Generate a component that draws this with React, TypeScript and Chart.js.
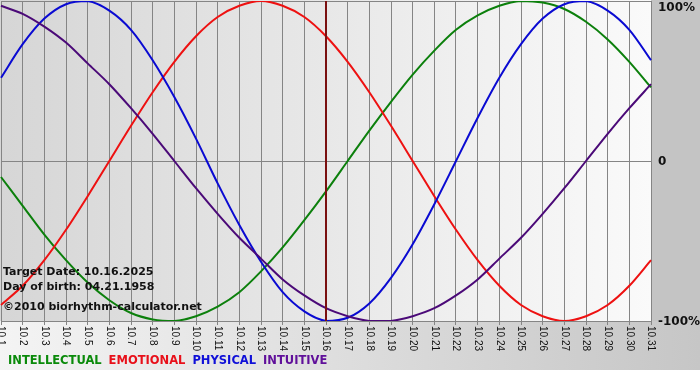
import React, { useEffect, useRef } from "react";
import { Chart, registerables } from "chart.js";

Chart.register(...registerables);

const days: string[] = [
  "10.1","10.2","10.3","10.4","10.5","10.6","10.7","10.8","10.9","10.10",
  "10.11","10.12","10.13","10.14","10.15","10.16","10.17","10.18","10.19","10.20",
  "10.21","10.22","10.23","10.24","10.25","10.26","10.27","10.28","10.29","10.30","10.31",
];

const intellectual: number[] = [
  -0.10, -0.28, -0.46, -0.62, -0.76, -0.87, -0.95, -0.99, -1.00, -0.97,
  -0.91, -0.82, -0.69, -0.54, -0.37, -0.19, 0.00, 0.19, 0.37, 0.54,
  0.69, 0.82, 0.91, 0.97, 1.00, 0.99, 0.95, 0.87, 0.76, 0.62, 0.46,
];

const emotional: number[] = [
  -0.90, -0.78, -0.62, -0.43, -0.22, 0.00, 0.22, 0.43, 0.62, 0.78,
  0.90, 0.97, 1.00, 0.97, 0.90, 0.78, 0.62, 0.43, 0.22, 0.00,
  -0.22, -0.43, -0.62, -0.78, -0.90, -0.97, -1.00, -0.97, -0.90, -0.78, -0.62,
];

const physical: number[] = [
  0.52, 0.73, 0.89, 0.98, 1.00, 0.94, 0.82, 0.63, 0.40, 0.14,
  -0.14, -0.40, -0.63, -0.82, -0.94, -1.00, -0.98, -0.89, -0.73, -0.52,
  -0.27, 0.00, 0.27, 0.52, 0.73, 0.89, 0.98, 1.00, 0.94, 0.82, 0.63,
];

const intuitive: number[] = [
  0.97, 0.92, 0.84, 0.74, 0.61, 0.48, 0.33, 0.17, 0.00, -0.17,
  -0.33, -0.48, -0.61, -0.74, -0.84, -0.92, -0.97, -1.00, -1.00, -0.97,
  -0.92, -0.84, -0.74, -0.61, -0.48, -0.33, -0.17, 0.00, 0.17, 0.33, 0.48,
];

const targetIndex = 15;
const yTickLabels: { v: number; t: string }[] = [
  { v: 1, t: "100%" },
  { v: 0, t: "0" },
  { v: -1, t: "-100%" },
];
const legendItems: { t: string; c: string }[] = [
  { t: "INTELLECTUAL", c: "#0a8a0a" },
  { t: "EMOTIONAL", c: "#e8101a" },
  { t: "PHYSICAL", c: "#1010d8" },
  { t: "INTUITIVE", c: "#60109a" },
];
const infoLines: string[] = [
  "Target Date: 10.16.2025",
  "Day of birth: 04.21.1958",
  "\u00a92010 biorhythm-calculator.net",
];

const decorPlugin = {
  id: "decor",
  beforeDraw(chart: any) {
    const { ctx, chartArea } = chart;
    const W = chart.width;
    const H = chart.height;
    ctx.save();
    ctx.fillStyle = "#ffffff";
    ctx.fillRect(0, 0, W, H);
    ctx.fillStyle = "#c4c4c4";
    ctx.fillRect(chartArea.right, 0, W - chartArea.right, chartArea.bottom + 1);
    const gb = ctx.createLinearGradient(0, 0, W, 0);
    gb.addColorStop(0, "#f4f4f4");
    gb.addColorStop(1, "#c6c6c6");
    ctx.fillStyle = gb;
    ctx.fillRect(0, chartArea.bottom, W, 370 - chartArea.bottom);
    const g = ctx.createLinearGradient(chartArea.left, 0, chartArea.right, 0);
    g.addColorStop(0, "#d6d6d6");
    g.addColorStop(1, "#fafafa");
    ctx.fillStyle = g;
    ctx.fillRect(0, 0, chartArea.right, chartArea.bottom);
    ctx.restore();
  },
  afterDatasetsDraw(chart: any) {
    const { ctx, chartArea, scales } = chart;
    const xs = scales.x;
    const ys = scales.y;
    ctx.save();
    const tx = Math.round(xs.getPixelForValue(targetIndex));
    ctx.strokeStyle = "#7a1010";
    ctx.lineWidth = 2;
    ctx.beginPath();
    ctx.moveTo(tx, chartArea.top);
    ctx.lineTo(tx, chartArea.bottom);
    ctx.stroke();

    ctx.fillStyle = "#111111";
    ctx.font = "bold 11px 'DejaVu Sans'";
    ctx.textAlign = "left";
    ctx.textBaseline = "middle";
    ctx.fillText(infoLines[0], 3, 272);
    ctx.fillText(infoLines[1], 3, 287);
    ctx.fillText(infoLines[2], 3, 307);

    ctx.fillStyle = "#111111";
    ctx.font = "10px 'Liberation Sans'";
    days.forEach((d, i) => {
      const x = xs.getPixelForValue(i);
      ctx.save();
      ctx.translate(x, chartArea.bottom + 5);
      ctx.rotate(Math.PI / 2);
      ctx.textAlign = "left";
      ctx.textBaseline = "middle";
      ctx.fillText(d, 0, 0);
      ctx.restore();
    });

    ctx.font = "bold 12px 'DejaVu Sans'";
    ctx.textAlign = "left";
    ctx.textBaseline = "middle";
    yTickLabels.forEach((l) => {
      let y = ys.getPixelForValue(l.v);
      if (l.v === 1) y += 6;
      ctx.fillText(l.t, chartArea.right + 7, y + 1);
    });

    ctx.font = "bold 11.5px 'DejaVu Sans'";
    let lx = 8;
    legendItems.forEach((it) => {
      ctx.fillStyle = it.c;
      ctx.fillText(it.t, lx, 361);
      lx += ctx.measureText(it.t).width + 7;
    });
    ctx.restore();
  },
};

export default function App() {
  const ref = useRef<HTMLCanvasElement | null>(null);
  useEffect(() => {
    document.body.style.margin = "0";
    if (!ref.current) return;
    const mk = (label: string, data: number[], color: string) => ({
      label,
      data,
      borderColor: color,
      backgroundColor: color,
      borderWidth: 2,
      pointRadius: 0,
      tension: 0.3,
      fill: false,
    });
    const chart = new Chart(ref.current, {
      type: "line",
      data: {
        labels: days,
        datasets: [
          mk("INTUITIVE", intuitive, "#4b0a78"),
          mk("PHYSICAL", physical, "#0a0ad2"),
          mk("EMOTIONAL", emotional, "#ee1111"),
          mk("INTELLECTUAL", intellectual, "#0c800c"),
        ],
      },
      options: {
        responsive: false,
        animation: false,
        layout: { padding: { left: 1, top: 1, right: 49, bottom: 55 } },
        plugins: { legend: { display: false }, tooltip: { enabled: false } },
        scales: {
          x: {
            offset: false,
            grid: { color: "#858585", lineWidth: 1, drawTicks: true, tickLength: 4 },
            border: { display: false },
            ticks: { display: false },
          },
          y: {
            min: -1,
            max: 1,
            grid: { color: "#858585", lineWidth: 1, drawTicks: false },
            border: { display: false },
            ticks: { display: false, stepSize: 1 },
          },
        },
      },
      plugins: [decorPlugin],
    });
    return () => chart.destroy();
  }, []);
  return (
    <div style={{ position: "absolute", left: 0, top: 0, width: 700, height: 380 }}>
      <canvas ref={ref} width={700} height={380} style={{ width: 700, height: 380, display: "block" }} />
    </div>
  );
}
